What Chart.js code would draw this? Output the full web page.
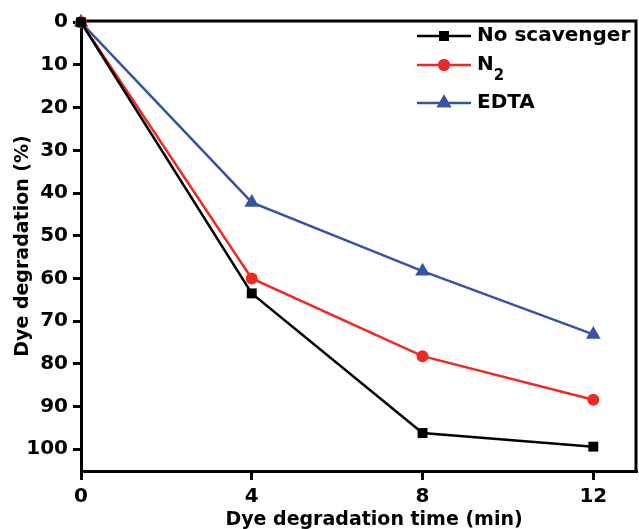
<!DOCTYPE html>
<html>
<head>
<meta charset="utf-8">
<script src="https://cdn.jsdelivr.net/npm/chart.js@4/dist/chart.umd.min.js"></script>
<style>
    html, body {margin: 0; padding: 0; background: #fff;}
    #wrap {width: 639px; height: 529px;}
</style>
</head>
<body>
<div id="wrap"><canvas id="degChart" width="639" height="529"></canvas></div>
<script>
const times = [0, 4, 8, 12];
const seriesNames = ["No scavenger", "N2", "EDTA"];
const noScavenger = [0, 63.5, 96.2, 99.4];
const nitrogen = [0, 60.0, 78.2, 88.4];
const edta = [0, 42.2, 58.3, 73.1];
const yTicks = [0, 10, 20, 30, 40, 50, 60, 70, 80, 90, 100];
const xTicks = [0, 4, 8, 12];
const xTitle = "Dye degradation time (min)";
const yTitle = "Dye degradation (%)";

const FONT = "'DejaVu Sans', sans-serif";

const toPoints = vals => vals.map((v, i) => ({x: times[i], y: v}));

// top and right edges of the box
const framePlugin = {
    id: "frame",
    beforeDatasetsDraw(chart) {
        const {ctx, chartArea: a} = chart;
        ctx.save();
        ctx.strokeStyle = "#000";
        ctx.lineWidth = 3;
        ctx.beginPath();
        ctx.moveTo(a.left, a.top);
        ctx.lineTo(a.right, a.top);
        ctx.lineTo(a.right, a.bottom);
        ctx.stroke();
        ctx.restore();
    }
};

// axis titles, placed as in the figure
const titlePlugin = {
    id: "axisTitles",
    afterDraw(chart) {
        const {ctx} = chart;
        ctx.save();
        ctx.fillStyle = "#000";
        ctx.font = "bold 19px " + FONT;
        ctx.textAlign = "center";
        ctx.textBaseline = "alphabetic";
        ctx.fillText(xTitle, 374, 525);
        ctx.translate(28, 246);
        ctx.rotate(-Math.PI / 2);
        ctx.fillText(yTitle, 0, 0);
        ctx.restore();
    }
};

// legend: short line with the marker in the middle, bold label
const legendPlugin = {
    id: "lineLegend",
    afterDraw(chart) {
        const {ctx} = chart;
        const rows = [36, 65, 103];
        const x0 = 417, x1 = 471;
        ctx.save();
        chart.data.datasets.forEach((ds, i) => {
            const y = rows[i];
            ctx.strokeStyle = ds.borderColor;
            ctx.lineWidth = 2.5;
            ctx.beginPath();
            ctx.moveTo(x0, y);
            ctx.lineTo(x1, y);
            ctx.stroke();
            ctx.fillStyle = ds.pointBackgroundColor;
            ctx.beginPath();
            Chart.helpers.drawPoint(ctx, {pointStyle: ds.pointStyle, radius: ds.pointRadius, borderWidth: 0}, (x0 + x1) / 2, y);
            ctx.fill();

            ctx.fillStyle = "#000";
            ctx.textBaseline = "middle";
            ctx.textAlign = "left";
            const m = ds.label.match(/^(.*?[A-Za-z])(\d+)$/);
            ctx.font = "bold 20px " + FONT;
            if (m) {
                ctx.fillText(m[1], 477, y);
                const w = ctx.measureText(m[1]).width;
                ctx.font = "bold 15px " + FONT;
                ctx.fillText(m[2], 477 + w, y + 11);
            } else {
                ctx.fillText(ds.label, 477, y);
            }
        });
        ctx.restore();
    }
};

const makeSet = (label, vals, color, style, radius) => ({
    label,
    data: toPoints(vals),
    borderColor: color,
    backgroundColor: color,
    pointBackgroundColor: color,
    pointBorderColor: color,
    pointBorderWidth: 0,
    pointStyle: style,
    pointRadius: radius,
    borderWidth: 2.5,
    tension: 0,
    clip: false
});

new Chart(document.getElementById("degChart"), {
    type: "line",
    data: {
        datasets: [
            makeSet(seriesNames[0], noScavenger, "#000000", "rect", 7),
            makeSet(seriesNames[1], nitrogen, "#ee2a24", "circle", 6),
            makeSet(seriesNames[2], edta, "#3953a4", "triangle", 8.5)
        ]
    },
    options: {
        responsive: false,
        animation: false,
        layout: {autoPadding: false, padding: {top: 21, right: 3, left: 0, bottom: 0}},
        plugins: {
            legend: {display: false},
            tooltip: {enabled: false}
        },
        scales: {
            x: {
                type: "linear",
                min: 0,
                max: 13,
                afterBuildTicks: axis => { axis.ticks = xTicks.map(v => ({value: v})); },
                afterFit: axis => { axis.height = 58; axis.paddingLeft = 0; axis.paddingRight = 0; },
                ticks: {
                    color: "#000",
                    padding: 5,
                    maxRotation: 0,
                    font: {family: FONT, size: 20, weight: "bold"}
                },
                grid: {
                    display: true,
                    drawOnChartArea: false,
                    drawTicks: true,
                    tickLength: 9,
                    color: "#000",
                    lineWidth: 3
                },
                border: {display: true, color: "#000", width: 3}
            },
            y: {
                type: "linear",
                reverse: true,
                min: -0.3,
                max: 105.1,
                afterBuildTicks: axis => { axis.ticks = yTicks.map(v => ({value: v})); },
                afterFit: axis => { axis.width = 81; axis.paddingTop = 0; axis.paddingBottom = 0; },
                ticks: {
                    color: "#000",
                    padding: 5,
                    font: {family: FONT, size: 20, weight: "bold"}
                },
                grid: {
                    display: true,
                    drawOnChartArea: false,
                    drawTicks: true,
                    tickLength: 8,
                    color: "#000",
                    lineWidth: 3
                },
                border: {display: true, color: "#000", width: 3}
            }
        }
    },
    plugins: [framePlugin, titlePlugin, legendPlugin]
});
</script>
</body>
</html>
